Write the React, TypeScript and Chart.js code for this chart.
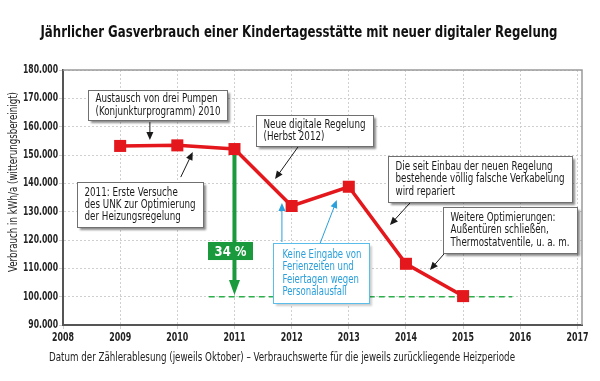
import { useEffect, useRef } from "react";
import { Chart, registerables } from "chart.js";

Chart.register(...registerables);

// ---------- data ----------
const years = [2009, 2010, 2011, 2012, 2013, 2014, 2015];
const consumption = [153200, 153400, 152100, 132000, 138800, 111600, 100200];
const xTicks = [2008, 2009, 2010, 2011, 2012, 2013, 2014, 2015, 2016, 2017];
const yTicks = [90000, 100000, 110000, 120000, 130000, 140000, 150000, 160000, 170000, 180000];
const targetLevel = 100000;
const targetRange = [2010.55, 2015.86];
const savingYear = 2011;
const savingTop = 152100;
const savingTip = 100600;
const savingLabel = "34 %";

const titleText = "Jährlicher Gasverbrauch einer Kindertagesstätte mit neuer digitaler Regelung";
const yTitle = "Verbrauch in kWh/a (witterungsbereinigt)";
const xTitle = "Datum der Zählerablesung (jeweils Oktober) – Verbrauchswerte für die jeweils zurückliegende Heizperiode";

// annotation boxes in data coordinates: [x0, x1, yTop, yBottom]
const notes = [
  { box: [2008.44, 2010.87, 172900, 162350], lines: ["Austausch von drei Pumpen", "(Konjunkturprogramm) 2010"], arrows: [[2009.52, 161600, 2009.52, 155300]], blue: false },
  { box: [2008.245, 2010.45, 140470, 124580], lines: ["2011: Erste Versuche", "des UNK zur Optimierung", "der Heizungsregelung"], arrows: [[2010.06, 142200, 2010.27, 151050]], blue: false },
  { box: [2011.376, 2013.42, 164100, 153170], lines: ["Neue digitale Regelung", "(Herbst 2012)"], arrows: [[2012.11, 152800, 2011.71, 141500]], blue: false },
  { box: [2013.686, 2016.905, 149640, 133400], lines: ["Die seit Einbau der neuen Regelung", "bestehende völlig falsche Verkabelung", "wird repariert"], arrows: [[2014.07, 133050, 2013.72, 125300]], blue: false },
  { box: [2014.648, 2016.99, 131640, 115400], lines: ["Weitere Optimierungen:", "Außentüren schließen,", "Thermostatventile, u. a. m."], arrows: [[2014.68, 115400, 2014.42, 109400]], blue: false },
  { box: [2011.674, 2013.36, 118930, 97750], lines: ["Keine Eingabe von", "Ferienzeiten und", "Feiertagen wegen", "Personalausfall"], arrows: [[2011.83, 119290, 2011.83, 133050], [2012.5, 118930, 2012.79, 134100]], blue: true },
];
const savingBox = [2010.537, 2011.324, 119290, 112930];

const FONT = '"DejaVu Sans Condensed", "DejaVu Sans", sans-serif';
const RED = "#e3171c";
const GREEN = "#1a9a3c";

// text widths (px) measured on the reference, used to compress the condensed face
const W_TITLE = 517;
const W_CAPTION = 466;
const W_YTITLE = 180;
const W_YTICK = 35; // "180.000"
const W_XTICK = 22; // "2008"
const W_NOTE = 169; // "bestehende völlig falsche Verkabelung"
const W_BLUE = 79; // "Keine Eingabe von"
const W_SAVING = 32; // "34 %"

const fmt = (v: number) => String(Math.round(v)).replace(/\B(?=(\d{3})+(?!\d))/g, ".");

function arrowHead(ctx: CanvasRenderingContext2D, x0: number, y0: number, x1: number, y1: number, len: number, half: number) {
  const a = Math.atan2(y1 - y0, x1 - x0);
  ctx.beginPath();
  ctx.moveTo(x1, y1);
  ctx.lineTo(x1 - len * Math.cos(a) + half * Math.sin(a), y1 - len * Math.sin(a) - half * Math.cos(a));
  ctx.lineTo(x1 - len * Math.cos(a) - half * Math.sin(a), y1 - len * Math.sin(a) + half * Math.cos(a));
  ctx.closePath();
  ctx.fill();
}

function scaleFor(ctx: CanvasRenderingContext2D, font: string, ref: string, target: number) {
  ctx.font = font;
  return target / ctx.measureText(ref).width;
}

function drawScaled(ctx: CanvasRenderingContext2D, text: string, x: number, y: number, sx: number, align: CanvasTextAlign) {
  ctx.save();
  ctx.translate(x, y);
  ctx.scale(sx, 1);
  ctx.textAlign = align;
  ctx.textBaseline = "middle";
  ctx.fillText(text, 0, 0);
  ctx.restore();
}

const overlay = {
  id: "overlay",
  beforeDatasetsDraw(chart: any) {
    const { ctx, chartArea: a } = chart;
    ctx.save();
    ctx.strokeStyle = "#9a9a9a";
    ctx.lineWidth = 1.5;
    ctx.beginPath();
    ctx.moveTo(a.left, a.top);
    ctx.lineTo(a.right, a.top);
    ctx.lineTo(a.right, a.bottom);
    ctx.stroke();
    ctx.restore();
  },
  afterDatasetsDraw(chart: any) {
    const { ctx } = chart;
    const xs = chart.scales.x;
    const ys = chart.scales.y;
    const X = (v: number) => xs.getPixelForValue(v);
    const Y = (v: number) => ys.getPixelForValue(v);
    ctx.save();
    // green arrow head
    ctx.fillStyle = GREEN;
    arrowHead(ctx, X(savingYear), Y(savingTop), X(savingYear), Y(savingTip), 15, 5.5);

    // 34% box
    {
      const x0 = X(savingBox[0]), x1 = X(savingBox[1]), y0 = Y(savingBox[2]), y1 = Y(savingBox[3]);
      ctx.fillStyle = GREEN;
      ctx.fillRect(x0, y0, x1 - x0, y1 - y0);
      ctx.fillStyle = "#fff";
      const f = `bold 14px ${FONT}`;
      const sx = scaleFor(ctx, f, savingLabel, W_SAVING);
      drawScaled(ctx, savingLabel, (x0 + x1) / 2, (y0 + y1) / 2 + 1, sx, "center");
    }

    const noteFont = `11.5px ${FONT}`;
    const blueFont = `12px ${FONT}`;
    const sxNote = scaleFor(ctx, noteFont, "bestehende völlig falsche Verkabelung", W_NOTE);
    const sxBlue = scaleFor(ctx, blueFont, "Keine Eingabe von", W_BLUE);

    for (const n of notes) {
      const x0 = Math.round(X(n.box[0])) + 0.5, x1 = Math.round(X(n.box[1])) + 0.5;
      const y0 = Math.round(Y(n.box[2])) + 0.5, y1 = Math.round(Y(n.box[3])) + 0.5;
      for (const ar of n.arrows) {
        const ax0 = X(ar[0]), ay0 = Y(ar[1]), ax1 = X(ar[2]), ay1 = Y(ar[3]);
        const col = n.blue ? "#2aa0dc" : "#1a1a1a";
        ctx.strokeStyle = col;
        ctx.fillStyle = col;
        ctx.lineWidth = 1;
        const a = Math.atan2(ay1 - ay0, ax1 - ax0);
        ctx.beginPath();
        ctx.moveTo(ax0, ay0);
        ctx.lineTo(ax1 - 6 * Math.cos(a), ay1 - 6 * Math.sin(a));
        ctx.stroke();
        arrowHead(ctx, ax0, ay0, ax1, ay1, 8, 3.5);
      }
      ctx.save();
      ctx.shadowColor = n.blue ? "rgba(0,0,0,0.2)" : "rgba(0,0,0,0.45)";
      ctx.shadowBlur = 2;
      ctx.shadowOffsetX = 2;
      ctx.shadowOffsetY = 2;
      ctx.fillStyle = "#fff";
      ctx.fillRect(x0, y0, x1 - x0, y1 - y0);
      ctx.restore();
      ctx.strokeStyle = n.blue ? "#5bbde9" : "#707070";
      ctx.lineWidth = 1;
      ctx.strokeRect(x0, y0, x1 - x0, y1 - y0);
      ctx.fillStyle = n.blue ? "#2a9fdb" : "#1a1a1a";
      ctx.font = n.blue ? blueFont : noteFont;
      const sx = n.blue ? sxBlue : sxNote;
      const lh = n.blue ? 12.4 : 12.3;
      const cy = (y0 + y1) / 2;
      n.lines.forEach((t, i) => {
        drawScaled(ctx, t, x0 + (n.blue ? 9 : 7), cy + (i - (n.lines.length - 1) / 2) * lh, sx, "left");
      });
    }
    ctx.restore();
  },
  afterDraw(chart: any) {
    const { ctx } = chart;
    const xs = chart.scales.x;
    const ys = chart.scales.y;
    ctx.save();
    // tick labels
    const tickFont = `bold 11.5px ${FONT}`;
    ctx.fillStyle = "#222";
    const sxY = scaleFor(ctx, tickFont, "180.000", W_YTICK);
    for (const v of yTicks) drawScaled(ctx, fmt(v), xs.left - 5 - 0 + 0 - 0 + (chart.chartArea.left - xs.left) , ys.getPixelForValue(v), sxY, "right");
    const sxX = scaleFor(ctx, tickFont, "2008", W_XTICK);
    for (const v of xTicks) drawScaled(ctx, String(v), xs.getPixelForValue(v), chart.chartArea.bottom + 13, sxX, "center");

    // titles
    ctx.fillStyle = "#111";
    const tf = `bold 16px ${FONT}`;
    const sxT = scaleFor(ctx, tf, titleText, W_TITLE);
    drawScaled(ctx, titleText, 40.5 + W_TITLE / 2, 33, sxT, "center");

    ctx.fillStyle = "#222";
    const cf = `11.5px ${FONT}`;
    const sxC = scaleFor(ctx, cf, xTitle, W_CAPTION);
    drawScaled(ctx, xTitle, 49 + W_CAPTION / 2, 358, sxC, "center");

    const yf = `11.5px ${FONT}`;
    const sxYT = scaleFor(ctx, yf, yTitle, W_YTITLE);
    ctx.translate(14, 182);
    ctx.rotate(-Math.PI / 2);
    drawScaled(ctx, yTitle, 0, 0, sxYT, "center");
    ctx.restore();
  },
};

export default function App() {
  const ref = useRef<HTMLCanvasElement | null>(null);
  useEffect(() => {
    if (!ref.current) return;
    const chart = new Chart(ref.current, {
      type: "line",
      data: {
        datasets: [
          {
            label: "Gasverbrauch",
            data: years.map((yr, i) => ({ x: yr, y: consumption[i] })),
            borderColor: RED,
            backgroundColor: RED,
            borderWidth: 3.5,
            pointStyle: "rect",
            pointRadius: 8.5,
            pointBorderWidth: 0,
            tension: 0,
            order: 0,
          },
          {
            label: "Einsparung",
            data: [{ x: savingYear, y: savingTop }, { x: savingYear, y: savingTip + 3000 }],
            borderColor: GREEN,
            borderWidth: 4,
            pointRadius: 0,
            order: 1,
          },
          {
            label: "Ziel",
            data: [{ x: targetRange[0], y: targetLevel }, { x: targetRange[1], y: targetLevel }],
            borderColor: "#2bb04a",
            borderWidth: 1.5,
            borderDash: [6, 4],
            pointRadius: 0,
            order: 2,
          },
        ],
      },
      options: {
        animation: false,
        responsive: false,
        maintainAspectRatio: false,
        layout: { padding: { top: 70, right: 18, bottom: 0, left: 0 } },
        plugins: { legend: { display: false }, tooltip: { enabled: false }, title: { display: false } },
        scales: {
          x: {
            type: "linear",
            min: 2008,
            max: 2017.08,
            afterBuildTicks: (s: any) => { s.ticks = xTicks.map((v) => ({ value: v })); },
            afterFit: (s: any) => { s.height = 56; },
            grid: { color: "#cfcfcf", lineWidth: 1, tickLength: 4, drawTicks: true },
            border: { display: true, color: "#555", width: 2, dash: [2, 2] },
            ticks: { display: false, autoSkip: false },
          },
          y: {
            type: "linear",
            min: 90000,
            max: 180000,
            afterBuildTicks: (s: any) => { s.ticks = yTicks.map((v) => ({ value: v })); },
            afterFit: (s: any) => { s.width = 63; },
            grid: { color: "#cfcfcf", lineWidth: 1, tickLength: 4, drawTicks: true },
            border: { display: true, color: "#555", width: 2, dash: [2, 2] },
            ticks: { display: false, autoSkip: false },
          },
        },
      },
      plugins: [overlay],
    });
    return () => chart.destroy();
  }, []);
  return (
    <div style={{ position: "absolute", left: 0, top: 0, width: 600, height: 381, background: "#fff" }}>
      <canvas ref={ref} width={600} height={381} style={{ display: "block" }} />
    </div>
  );
}
